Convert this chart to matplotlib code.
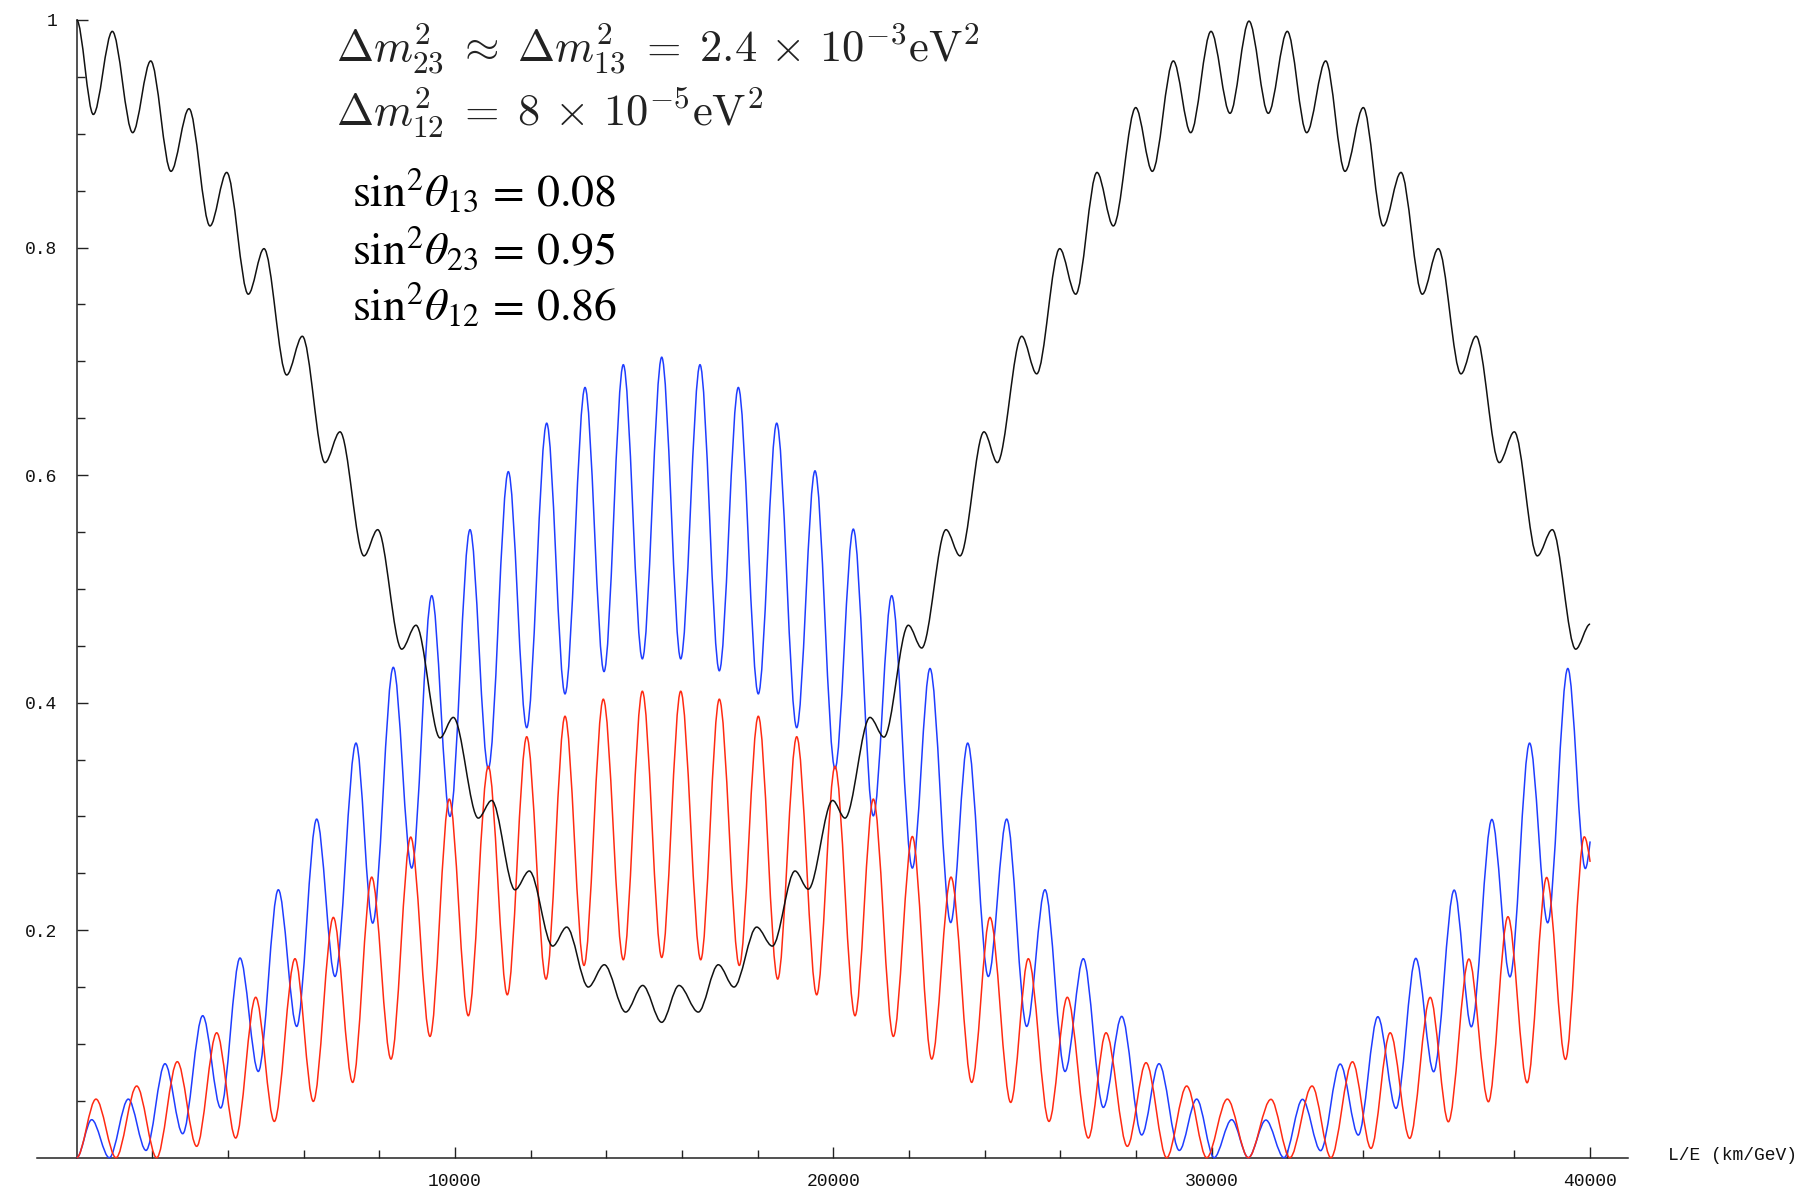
import matplotlib
matplotlib.use("Agg")
import matplotlib.pyplot as plt
from matplotlib.path import Path
from matplotlib.patches import PathPatch

# ---------------- data (local extrema) ----------------
black_x = [0, 439, 941, 1480, 1956, 2492, 2968, 3523, 3965, 4535, 4950, 5550, 5963,
           6563, 6959, 7593, 7955, 8590, 8968, 9602, 9954, 10614, 10968, 11584, 11962,
           12581, 12951, 13522, 13945, 14510, 14959, 15462, 15919, 16429, 16958, 17373,
           17972, 18385, 18985, 19336, 19981, 20306, 20967, 21337, 21980, 22334, 22976,
           23346, 23980, 24332, 24977, 25373, 25981, 26404, 26967, 27398, 27990, 28429,
           28984, 29443, 29980, 30482, 30984, 31494, 31996, 32509, 33011, 33521, 34005,
           34533, 35001, 35564, 35987, 36587, 36984, 37599, 37996, 38604, 39000, 39618,
           40000]
black_y = [1.0, 0.917, 0.990, 0.901, 0.964, 0.867, 0.922, 0.819, 0.866, 0.759, 0.799,
           0.688, 0.722, 0.611, 0.638, 0.529, 0.552, 0.447, 0.468, 0.369, 0.387, 0.2985,
           0.314, 0.2355, 0.252, 0.186, 0.2027, 0.150, 0.1696, 0.128, 0.1514, 0.119,
           0.1514, 0.128, 0.1696, 0.150, 0.2027, 0.186, 0.252, 0.236, 0.314, 0.2985,
           0.387, 0.3697, 0.468, 0.448, 0.552, 0.529, 0.638, 0.611, 0.722, 0.689, 0.799,
           0.759, 0.866, 0.819, 0.923, 0.867, 0.964, 0.901, 0.990, 0.918, 0.999, 0.918,
           0.990, 0.901, 0.964, 0.867, 0.923, 0.819, 0.866, 0.759, 0.799, 0.689, 0.722,
           0.611, 0.638, 0.529, 0.552, 0.447, 0.469]

blue_x = [0, 396, 862, 1364, 1832, 2334, 2801, 3330, 3806, 4316, 4800, 5329, 5815, 6343,
          6827, 7382, 7823, 8368, 8854, 9383, 9866, 10395, 10879, 11408, 11894, 12422,
          12906, 13435, 13937, 14447, 14950, 15462, 15964, 16474, 16984, 17487, 18015,
          18501, 19030, 19513, 20042, 20526, 21055, 21540, 22086, 22553, 23100, 23549,
          24094, 24580, 25108, 25592, 26121, 26605, 27134, 27620, 28148, 28606, 29142,
          29601, 30059, 30526, 30966, 31430, 31909, 32398, 32877, 33394, 33873, 34389,
          34869, 35393, 35864, 36407, 36860, 37403, 37882, 38400, 38878, 39410, 39873,
          40000]
blue_y = [0.0, 0.0334, 0.0, 0.0515, 0.0064, 0.0826, 0.0211, 0.1248, 0.0437, 0.1755,
          0.0758, 0.2355, 0.1154, 0.2976, 0.1593, 0.3644, 0.2062, 0.431, 0.2546, 0.494,
          0.300, 0.552, 0.342, 0.603, 0.378, 0.6456, 0.4077, 0.677, 0.4273, 0.697,
          0.4385, 0.7036, 0.4385, 0.697, 0.428, 0.677, 0.4077, 0.6456, 0.378, 0.6037,
          0.342, 0.5525, 0.3005, 0.494, 0.2546, 0.430, 0.2067, 0.3644, 0.1593, 0.2976,
          0.1154, 0.2355, 0.0758, 0.1749, 0.0442, 0.1242, 0.020, 0.0826, 0.0064, 0.0515,
          0.0, 0.0334, 0.0, 0.0331, 0.0, 0.0513, 0.0062, 0.0823, 0.0199, 0.1239, 0.0434,
          0.1752, 0.0756, 0.2352, 0.1151, 0.2973, 0.159, 0.3644, 0.2065, 0.430, 0.2542,
          0.278]

red_x = [0, 510, 1039, 1586, 2114, 2659, 3171, 3700, 4202, 4731, 5223, 5770, 6254, 6783,
         7294, 7797, 8307, 8828, 9338, 9848, 10350, 10879, 11381, 11894, 12404, 12906,
         13408, 13918, 14447, 14950, 15462, 15964, 16493, 16984, 17513, 18015, 18527,
         19030, 19558, 20042, 20571, 21055, 21584, 22086, 22598, 23108, 23655, 24138,
         24686, 25151, 25698, 26182, 26737, 27205, 27768, 28262, 28808, 29337, 29866,
         30411, 30966, 31565, 32063, 32651, 33149, 33719, 34208, 34715, 35231, 35774,
         36253, 36796, 37312, 37828, 38335, 38851, 39348, 39846, 40000]
red_y = [0.0, 0.0515, 0.0, 0.063, 0.0, 0.0844, 0.010, 0.1098, 0.0173, 0.141, 0.0319,
         0.1749, 0.0495, 0.2112, 0.0662, 0.2466, 0.0867, 0.2818, 0.1066, 0.3152, 0.1248,
         0.344, 0.1432, 0.370, 0.157, 0.388, 0.169, 0.403, 0.174, 0.410, 0.176, 0.410,
         0.174, 0.403, 0.169, 0.388, 0.157, 0.370, 0.1432, 0.344, 0.1248, 0.3152, 0.1066,
         0.2823, 0.0867, 0.2466, 0.0662, 0.2112, 0.0486, 0.1749, 0.0319, 0.141, 0.0173,
         0.1098, 0.010, 0.0835, 0.0, 0.063, 0.0, 0.0515, 0.0, 0.0513, 0.0, 0.063, 0.0,
         0.0843, 0.0082, 0.1098, 0.017, 0.1409, 0.0316, 0.1746, 0.0492, 0.2118, 0.0659,
         0.2463, 0.0864, 0.282, 0.260]

x_major = [10000, 20000, 30000, 40000]
x_major_labels = ["10000", "20000", "30000", "40000"]
x_minor = [2000, 4000, 6000, 8000, 12000, 14000, 16000, 18000, 22000, 24000, 26000,
           28000, 32000, 34000, 36000, 38000]
y_major = [0.2, 0.4, 0.6, 0.8, 1.0]
y_major_labels = ["0.2", "0.4", "0.6", "0.8", "1"]
y_minor = [0.05, 0.1, 0.15, 0.25, 0.3, 0.35, 0.45, 0.5, 0.55, 0.65, 0.7, 0.75, 0.85,
           0.9, 0.95]
x_label = "L/E (km/GeV)"
text_mass = [r"$\Delta m^2_{23}\;\approx\;\Delta m^2_{13}\;=\;2.4\,\times\,10^{-3}\mathrm{eV}^2$",
             r"$\Delta m^2_{12}\;=\;8\,\times\,10^{-5}\mathrm{eV}^2$"]
text_angles = [r"$\mathrm{sin}^2\theta_{13}\,=\,0.08$",
               r"$\mathrm{sin}^2\theta_{23}\,=\,0.95$",
               r"$\mathrm{sin}^2\theta_{12}\,=\,0.86$"]

# ---------------- figure ----------------
W, H = 1798, 1200
fig = plt.figure(figsize=(W / 100, H / 100), dpi=100)
fig.patch.set_facecolor("white")

def fx(px):
    return px / W

def fy(py):
    return 1 - py / H

xmin, xmax = -1050, 41000
px0, ppu = 76.7, 1 / 26.43           # pixel of x=0, pixels per unit
left_px = px0 + xmin * ppu
right_px = px0 + xmax * ppu
top_px, bot_px = 20.0, 1157.7
ax = fig.add_axes([fx(left_px), fy(bot_px), (right_px - left_px) / W, (bot_px - top_px) / H])
ax.set_xlim(xmin, xmax)
ax.set_ylim(0, 1)
ax.set_facecolor("none")

def smooth_path(xs, ys, free_end=False, k=1 / 3):
    verts = [(xs[0], ys[0])]
    codes = [Path.MOVETO]
    n = len(xs)
    for i in range(n - 1):
        x0, y0, x1, y1 = xs[i], ys[i], xs[i + 1], ys[i + 1]
        dx = x1 - x0
        c1 = (x0 + k * dx, y0)
        if free_end and i == n - 2:
            c2 = (x1 - k * dx, y1 - 0.5 * (y1 - y0))
        else:
            c2 = (x1 - k * dx, y1)
        verts += [c1, c2, (x1, y1)]
        codes += [Path.CURVE4] * 3
    return Path(verts, codes)

lw = 1.1
ax.add_patch(PathPatch(smooth_path(blue_x, blue_y, free_end=True), facecolor="none",
                       edgecolor="#1f3dff", lw=lw, clip_on=False, zorder=3))
ax.add_patch(PathPatch(smooth_path(red_x, red_y, free_end=True), facecolor="none",
                       edgecolor="#ff2a12", lw=lw, clip_on=False, zorder=4))
ax.add_patch(PathPatch(smooth_path(black_x, black_y), facecolor="none",
                       edgecolor="#111111", lw=lw, clip_on=False, zorder=5))

# axes styling
for s in ["top", "right"]:
    ax.spines[s].set_visible(False)
ax.spines["left"].set_position(("data", 0))
ax.spines["left"].set_bounds(0, 1)
for s in ["left", "bottom"]:
    ax.spines[s].set_linewidth(1.1)
    ax.spines[s].set_color("#222222")

ax.set_xticks(x_major, x_major_labels)
ax.set_xticks(x_minor, minor=True)
ax.set_yticks(y_major, y_major_labels)
ax.set_yticks(y_minor, minor=True)
ax.tick_params(which="major", direction="in", length=8, width=1.0, color="#222222",
               labelsize=13, labelcolor="#111111")
ax.tick_params(which="minor", direction="in", length=5.5, width=1.0, color="#222222")
ax.tick_params(axis="x", which="major", pad=11)
ax.tick_params(axis="y", which="major", pad=14)
for lab in ax.get_xticklabels() + ax.get_yticklabels():
    lab.set_fontfamily("Liberation Mono")

fig.text(fx(1668), fy(1155), x_label, ha="left", va="center",
         family="Liberation Mono", fontsize=13, color="#111111")

mass_base = [62, 127]
for t, yb in zip(text_mass, mass_base):
    fig.text(fx(336), fy(yb), t, ha="left", va="baseline", fontsize=32,
             math_fontfamily="cm", color="#222222")
ang_base = [206, 264, 321]
for t, yb in zip(text_angles, ang_base):
    fig.text(fx(352), fy(yb), t, ha="left", va="baseline", fontsize=33,
             math_fontfamily="stix", color="black")

fig.savefig("out.png", dpi=100, facecolor="white")
